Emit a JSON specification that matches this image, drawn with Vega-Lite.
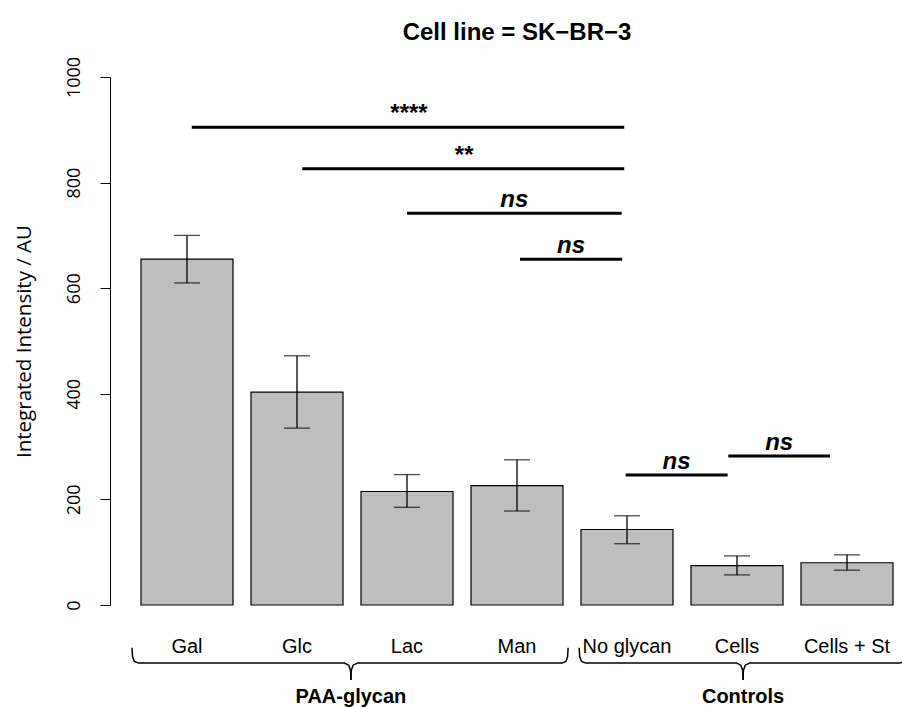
{
  "$schema": "https://vega.github.io/schema/vega-lite/v6.json",
  "width": 792,
  "height": 528,
  "autosize": "none",
  "padding": {"left": 110, "top": 77, "right": 0, "bottom": 103},
  "background": "white",
  "config": {"view": {"stroke": null}},
  "title": {"text": "Cell line = SK−BR−3", "font": "Liberation Sans", "fontSize": 24, "fontWeight": "bold", "color": "black", "anchor": "middle", "frame": "group", "dx": 11, "dy": 27, "baseline": "alphabetic", "offset": 19},
  "datasets": {
    "bars": [
      {"cat": "Gal", "mean": 655, "lo": 610, "hi": 700},
      {"cat": "Glc", "mean": 403, "lo": 335, "hi": 472},
      {"cat": "Lac", "mean": 215, "lo": 185, "hi": 247},
      {"cat": "Man", "mean": 226, "lo": 178, "hi": 275},
      {"cat": "No glycan", "mean": 143, "lo": 116, "hi": 169},
      {"cat": "Cells", "mean": 74.5, "lo": 57, "hi": 93},
      {"cat": "Cells + St", "mean": 80, "lo": 66, "hi": 95}
    ],
    "sig": [
      {"x1": 1.043, "x2": 4.975, "xm": 3.009, "y": 905, "label": "****"},
      {"x1": 2.048, "x2": 4.975, "xm": 3.511, "y": 826, "label": "**"},
      {"x1": 3.0, "x2": 4.952, "xm": 3.976, "y": 742, "label": "ns"},
      {"x1": 4.027, "x2": 4.957, "xm": 4.492, "y": 655, "label": "ns"},
      {"x1": 4.988, "x2": 5.915, "xm": 5.451, "y": 246, "label": "ns"},
      {"x1": 5.921, "x2": 6.845, "xm": 6.383, "y": 282, "label": "ns"}
    ],
    "brace": [
      {"seg": "b1a", "ord": 1, "bx": 0.5, "by": -81},
      {"seg": "b1a", "ord": 2, "bx": 0.505, "by": -98},
      {"seg": "b1a", "ord": 3, "bx": 0.522, "by": -107},
      {"seg": "b1a", "ord": 4, "bx": 0.56, "by": -110},
      {"seg": "b1a", "ord": 5, "bx": 2.43, "by": -110},
      {"seg": "b1a", "ord": 6, "bx": 2.47, "by": -114},
      {"seg": "b1a", "ord": 7, "bx": 2.487, "by": -124},
      {"seg": "b1a", "ord": 8, "bx": 2.49, "by": -142},
      {"seg": "b1b", "ord": 1, "bx": 2.49, "by": -142},
      {"seg": "b1b", "ord": 2, "bx": 2.493, "by": -124},
      {"seg": "b1b", "ord": 3, "bx": 2.51, "by": -114},
      {"seg": "b1b", "ord": 4, "bx": 2.55, "by": -110},
      {"seg": "b1b", "ord": 5, "bx": 4.41, "by": -110},
      {"seg": "b1b", "ord": 6, "bx": 4.445, "by": -107},
      {"seg": "b1b", "ord": 7, "bx": 4.46, "by": -98},
      {"seg": "b1b", "ord": 8, "bx": 4.465, "by": -81},
      {"seg": "b2a", "ord": 1, "bx": 4.565, "by": -81},
      {"seg": "b2a", "ord": 2, "bx": 4.57, "by": -98},
      {"seg": "b2a", "ord": 3, "bx": 4.587, "by": -107},
      {"seg": "b2a", "ord": 4, "bx": 4.625, "by": -110},
      {"seg": "b2a", "ord": 5, "bx": 5.995, "by": -110},
      {"seg": "b2a", "ord": 6, "bx": 6.035, "by": -114},
      {"seg": "b2a", "ord": 7, "bx": 6.052, "by": -124},
      {"seg": "b2a", "ord": 8, "bx": 6.055, "by": -142},
      {"seg": "b2b", "ord": 1, "bx": 6.055, "by": -142},
      {"seg": "b2b", "ord": 2, "bx": 6.058, "by": -124},
      {"seg": "b2b", "ord": 3, "bx": 6.075, "by": -114},
      {"seg": "b2b", "ord": 4, "bx": 6.115, "by": -110},
      {"seg": "b2b", "ord": 5, "bx": 7.48, "by": -110},
      {"seg": "b2b", "ord": 6, "bx": 7.518, "by": -107},
      {"seg": "b2b", "ord": 7, "bx": 7.535, "by": -98},
      {"seg": "b2b", "ord": 8, "bx": 7.54, "by": -81}
    ],
    "groups": [
      {"gx": 2.49, "gy": -186, "name": "PAA-glycan"},
      {"gx": 6.055, "gy": -186, "name": "Controls"}
    ]
  },
  "layer": [
    {
      "data": {"name": "bars"},
      "encoding": {
        "x": {"field": "cat", "type": "nominal", "sort": null,
          "scale": {"paddingInner": 0.1636, "paddingOuter": 0.1818, "align": 0.775},
          "axis": {"orient": "bottom", "title": null, "domain": false, "ticks": false, "tickSize": 0, "labelAngle": 0, "labelPadding": 47, "labelBaseline": "alphabetic", "labelFont": "Liberation Sans", "labelFontSize": 20, "labelColor": "black", "labelOverlap": false}}
      },
      "layer": [
        {
          "mark": {"type": "bar", "fill": "#BEBEBE", "stroke": "black", "strokeWidth": 1.2},
          "encoding": {
            "y": {"field": "mean", "type": "quantitative",
              "scale": {"domain": [0, 1000], "nice": false},
              "axis": {"values": [0, 200, 400, 600, 800, 1000], "format": "d", "grid": false, "tickSize": 10, "tickColor": "black", "tickWidth": 1, "domainColor": "black", "domainWidth": 1, "labelAngle": -90, "labelAlign": "center", "labelBaseline": "alphabetic", "labelPadding": 21, "labelFont": "Open Sans", "labelFontSize": 18, "labelColor": "black", "labelOverlap": false, "title": "Integrated Intensity / AU", "titleFont": "Open Sans", "titleFontSize": 20.5, "titleFontWeight": "normal", "titleColor": "black", "titleAngle": -90, "titleAlign": "center", "titleBaseline": "alphabetic", "titleX": -80, "titleY": 264}}
          }
        },
        {
          "mark": {"type": "rule", "color": "black", "strokeWidth": 1.3},
          "encoding": {
            "y": {"field": "lo", "type": "quantitative"},
            "y2": {"field": "hi"}
          }
        },
        {
          "mark": {"type": "tick", "color": "black", "orient": "horizontal", "size": 26, "thickness": 1.3},
          "encoding": {"y": {"field": "lo", "type": "quantitative"}}
        },
        {
          "mark": {"type": "tick", "color": "black", "orient": "horizontal", "size": 26, "thickness": 1.3},
          "encoding": {"y": {"field": "hi", "type": "quantitative"}}
        }
      ]
    },
    {
      "layer": [
        {
          "data": {"name": "sig"},
          "mark": {"type": "rule", "color": "black", "strokeWidth": 3},
          "encoding": {
            "x": {"field": "x1", "type": "quantitative", "scale": {"domain": [0.3, 7.5], "nice": false, "zero": false}, "axis": null},
            "x2": {"field": "x2"},
            "y": {"field": "y", "type": "quantitative", "scale": {"domain": [0, 1000], "nice": false}, "axis": null}
          }
        },
        {
          "data": {"name": "sig"},
          "mark": {"type": "text", "font": "Liberation Sans", "fontSize": 24, "fontWeight": "bold", "fontStyle": "italic", "color": "black", "baseline": "alphabetic", "align": "center", "dy": -6},
          "encoding": {
            "x": {"field": "xm", "type": "quantitative", "scale": {"domain": [0.3, 7.5], "nice": false, "zero": false}, "axis": null},
            "y": {"field": "y", "type": "quantitative", "scale": {"domain": [0, 1000], "nice": false}, "axis": null},
            "text": {"field": "label"}
          }
        },
        {
          "data": {"name": "brace"},
          "mark": {"type": "line", "color": "black", "strokeWidth": 1.5, "clip": false},
          "encoding": {
            "x": {"field": "bx", "type": "quantitative", "scale": {"domain": [0.3, 7.5], "nice": false, "zero": false}, "axis": null},
            "y": {"field": "by", "type": "quantitative", "scale": {"domain": [0, 1000], "nice": false}, "axis": null},
            "detail": {"field": "seg"},
            "order": {"field": "ord"}
          }
        },
        {
          "data": {"name": "groups"},
          "mark": {"type": "text", "font": "Liberation Sans", "fontSize": 20, "fontWeight": "bold", "color": "black", "baseline": "alphabetic", "align": "center"},
          "encoding": {
            "x": {"field": "gx", "type": "quantitative", "scale": {"domain": [0.3, 7.5], "nice": false, "zero": false}, "axis": null},
            "y": {"field": "gy", "type": "quantitative", "scale": {"domain": [0, 1000], "nice": false}, "axis": null},
            "text": {"field": "name"}
          }
        }
      ]
    }
  ],
  "resolve": {"scale": {"x": "independent", "y": "independent"}, "axis": {"x": "independent", "y": "independent"}}
}
